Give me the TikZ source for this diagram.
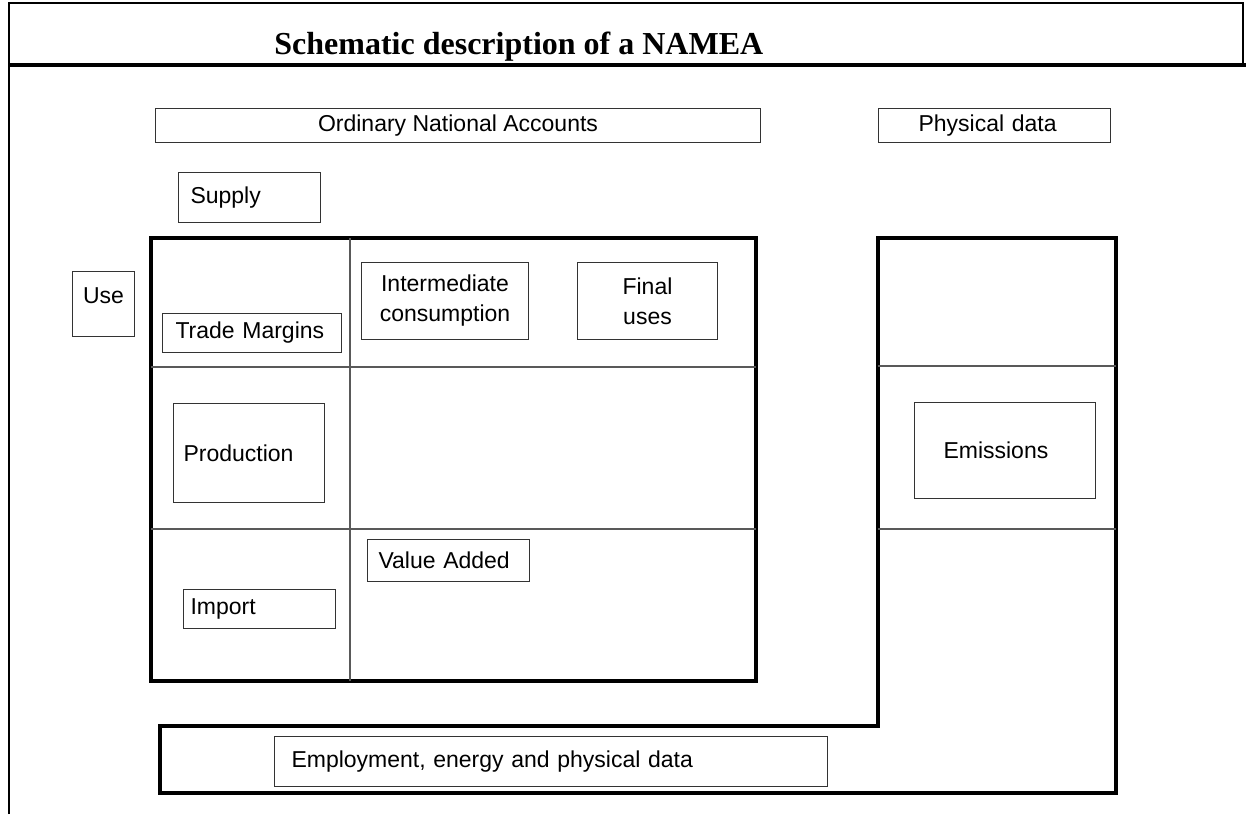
\documentclass[tikz,border=0pt]{standalone}
\usepackage{fontspec}
\setmainfont{Liberation Sans}
\newfontfamily\titlefont{Liberation Serif}
\usetikzlibrary{positioning}
\newcommand{\px}{0.5pt}

\begin{document}
\begin{tikzpicture}[x=\px, y=-\px,
    rect/.style={draw=black!80, line width=\px, rectangle, anchor=north west, align=left, inner ysep=0pt, font=\fontsize{11.5}{15}\selectfont},
    outline/.style={line width=1.5*\px},
    heavy/.style={line width=4*\px},
    divider/.style={draw=black!65, line width=1.2*\px}]
    \useasboundingbox (0,0) rectangle (1246,814);

    % Title frame
    \draw[outline] (9,814) -- (9,3) -- (1243,3) -- (1243,65);
    \draw[heavy] (9,65) -- (1246,65);
    \node[anchor=base west, inner sep=0pt, font=\titlefont\fontsize{16}{18}\selectfont\bfseries] (title) at (274,54) {Schematic description of a NAMEA};

    % Tables
    \draw[heavy] (151,238) rectangle (756,681);
    \draw[divider] (350,238) -- (350,681) (151,367) -- (756,367) (151,529) -- (756,529);
    \draw[heavy] (878,238) -- (878,726) -- (160,726) -- (160,793) -- (1116,793) -- (1116,238) -- cycle;
    \draw[divider] (878,366) -- (1116,366) (878,529) -- (1116,529);

    % Headers
    \node[rect, align=center, minimum width=605*\px, minimum height=34*\px] (ona) at (155,108) {Ordinary National Accounts};
    \node[rect, text width=152*\px, inner xsep=40*\px, minimum height=34*\px] (phys) at (878,108) {Physical data};
    \node[rect, text width=118*\px, inner xsep=12*\px, minimum height=50*\px] (supply) at (178,172) {Supply};
    \node[rect, minimum width=62*\px, minimum height=65*\px] (use) at (72,271) {};
    \node[inner sep=0pt, font=\fontsize{11.5}{15}\selectfont, below=16*\px of use.north] (use-text) {Use};

    % First row
    \node[rect, text width=153*\px, inner xsep=13*\px, minimum height=39*\px] (trade) at (162,313) {Trade Margins};
    \node[rect, align=center, inner xsep=0pt, minimum width=167*\px, minimum height=77*\px] (inter) at (361,262) {Intermediate\\consumption};
    \node[rect, align=center, inner xsep=0pt, minimum width=140*\px, minimum height=77*\px] (final) at (577,262) {Final\\uses};

    % Second row
    \node[rect, text width=131*\px, inner xsep=10*\px, minimum height=99*\px] (prod) at (173,403) {Production};
    \node[rect, text width=123*\px, inner xsep=29*\px, minimum height=96*\px] (emis) at (914,402) {Emissions};

    % Third row
    \node[rect, text width=140*\px, inner xsep=11*\px, minimum height=42*\px] (value) at (367,539) {Value Added};
    \node[rect, text width=138*\px, inner xsep=7*\px, minimum height=39*\px] (import) at (183,589) {Import};
    \node[rect, text width=519*\px, inner xsep=17*\px, minimum height=50*\px] (empl) at (274,736) {Employment, energy and physical data};

\end{tikzpicture}
\end{document}
